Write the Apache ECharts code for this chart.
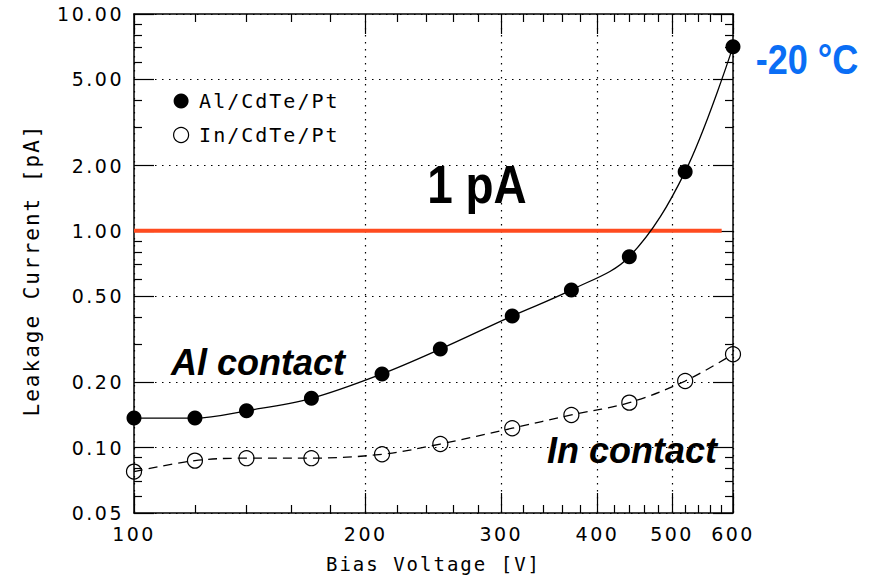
<!DOCTYPE html>
<html>
<head>
<meta charset="utf-8">
<script src="https://cdn.jsdelivr.net/npm/echarts@6/dist/echarts.min.js"></script>
<style>
  html, body { margin: 0; padding: 0; background: #fff; }
  #chart { width: 883px; height: 582px; }
  /* wide, airy lettering for the axis and legend text */
  #chart text[style*="DejaVu Sans"] { letter-spacing: 2.5px; }
  #chart text[style*="DejaVu Sans Mono"] { letter-spacing: 2px; }
</style>
</head>
<body>
<div id="chart"></div>
<script>
// Bias voltage steps [V]
const voltages = [100, 120, 140, 170, 210, 250, 310, 370, 440, 520, 600];
// Leakage current [pA] at -20 °C
const alCurrent = [0.137, 0.137, 0.148, 0.169, 0.219, 0.285, 0.405, 0.534, 0.76, 1.875, 7.07];
const inCurrent = [0.0776, 0.0872, 0.0895, 0.0895, 0.0933, 0.104, 0.123, 0.1416, 0.1614, 0.203, 0.270];

// 1 pA reference level and the voltage span it is drawn over
const limitCurrent = 1.0;
const limitVoltage = [100, 580];

// Axis ranges and tick positions
const xRange = [100, 600];
const yRange = [0.05, 10];
const xMajorTicks = [100, 200, 300, 400, 500, 600];
const xMinorTicks = [120, 140, 160, 180, 220, 240, 260, 280, 320, 340, 360, 380,
                     420, 440, 460, 480, 520, 540, 560, 580];
const yMajorTicks = [0.05, 0.1, 0.2, 0.5, 1, 2, 5, 10];
const yMinorTicks = [0.06, 0.07, 0.08, 0.09, 0.3, 0.4, 0.6, 0.7, 0.8, 0.9, 3, 4, 6, 7, 8, 9];

const seriesNames = ['Al/CdTe/Pt', 'In/CdTe/Pt'];

const lg = Math.log10;
const tickFont = 'DejaVu Sans';
const lineColor = '#000';

// Decorative tick axes laid over the log data axes (ticks at arbitrary decade values)
function tickAxis(dim, range, values, opts) {
  const isX = dim === 'x';
  const ax = {
    type: 'value',
    min: lg(range[0]),
    max: lg(range[1]),
    position: opts.position,
    silent: true,
    axisLine: { show: opts.line, onZero: false, lineStyle: { color: lineColor, width: 1.5 } },
    axisTick: {
      show: true, inside: true, length: opts.tickLen,
      customValues: values.map(lg),
      lineStyle: { color: lineColor, width: 1.2 }
    },
    axisLabel: { show: false },
    splitLine: { show: false },
    minorTick: { show: false },
    minorSplitLine: { show: false }
  };
  if (opts.labels) {
    ax.axisLabel = {
      show: true,
      customValues: values.map(lg),
      margin: isX ? 11 : 10,
      color: '#000',
      fontFamily: tickFont,
      fontSize: 19,
      formatter: isX
        ? (v) => String(Math.round(Math.pow(10, v)))
        : (v) => Math.pow(10, v).toFixed(2)
    };
  }
  if (opts.grid) {
    ax.splitLine = {
      show: true,
      lineStyle: { color: '#000', width: 1.2, type: [1.5, 5.5] }
    };
  }
  if (opts.name) {
    ax.name = opts.name;
    ax.nameLocation = 'middle';
    ax.nameGap = opts.nameGap;
    ax.nameTextStyle = {
      color: '#000', fontFamily: 'DejaVu Sans Mono', fontSize: opts.nameSize,
      padding: opts.namePadding || 0
    };
  }
  return ax;
}

const chart = echarts.init(document.getElementById('chart'), null, { renderer: 'svg' });

chart.setOption({
  animation: false,
  backgroundColor: '#fff',
  grid: { left: 134, right: 150, top: 14, bottom: 69, containLabel: false, outerBoundsMode: 'none' },
  legend: {
    orient: 'vertical',
    left: 173,
    top: 91,
    padding: 0,
    itemGap: 14,
    itemWidth: 26,
    itemHeight: 15,
    icon: 'circle',
    selectedMode: false,
    textStyle: { fontFamily: 'DejaVu Sans Mono', fontSize: 20, color: '#000', lineHeight: 20 },
    data: [
      { name: seriesNames[0], itemStyle: { color: '#000', borderWidth: 0 } },
      { name: seriesNames[1], itemStyle: { color: 'rgba(0,0,0,0)', borderColor: '#000', borderWidth: 1.2 } }
    ]
  },
  xAxis: [
    { type: 'log', logBase: 10, min: xRange[0], max: xRange[1], show: false },
    tickAxis('x', xRange, xMajorTicks, { position: 'bottom', line: true, tickLen: 20, labels: true, grid: true,
      name: 'Bias Voltage [V]', nameGap: 41, nameSize: 19 }),
    tickAxis('x', xRange, xMinorTicks, { position: 'bottom', line: false, tickLen: 8 }),
    tickAxis('x', xRange, xMajorTicks, { position: 'top', line: true, tickLen: 20 }),
    tickAxis('x', xRange, xMinorTicks, { position: 'top', line: false, tickLen: 8 })
  ],
  yAxis: [
    { type: 'log', logBase: 10, min: yRange[0], max: yRange[1], show: false },
    tickAxis('y', yRange, yMajorTicks, { position: 'left', line: true, tickLen: 20, labels: true, grid: true,
      name: 'Leakage Current [pA]', nameGap: 92, nameSize: 21, namePadding: [0, 13, 0, 0] }),
    tickAxis('y', yRange, yMinorTicks, { position: 'left', line: false, tickLen: 8 }),
    tickAxis('y', yRange, yMajorTicks, { position: 'right', line: true, tickLen: 20 }),
    tickAxis('y', yRange, yMinorTicks, { position: 'right', line: false, tickLen: 8 })
  ],
  series: [
    {
      name: 'limit',
      type: 'line',
      xAxisIndex: 0, yAxisIndex: 0,
      data: limitVoltage.map((v) => [v, limitCurrent]),
      symbol: 'none',
      silent: true,
      lineStyle: { color: '#ff4b1f', width: 4 },
      z: 3
    },
    {
      name: seriesNames[0],
      type: 'line',
      xAxisIndex: 0, yAxisIndex: 0,
      data: voltages.map((v, i) => [v, alCurrent[i]]),
      smooth: 0.35,
      symbol: 'circle',
      symbolSize: 15,
      itemStyle: { color: '#000' },
      lineStyle: { color: '#000', width: 1.3 },
      z: 4
    },
    {
      name: seriesNames[1],
      type: 'line',
      xAxisIndex: 0, yAxisIndex: 0,
      data: voltages.map((v, i) => [v, inCurrent[i]]),
      smooth: 0.35,
      symbol: 'circle',
      symbolSize: 15,
      itemStyle: { color: 'rgba(0,0,0,0)', borderColor: '#000', borderWidth: 1.2 },
      lineStyle: { color: '#000', width: 1.3, type: [9, 6] },
      z: 4
    }
  ],
  graphic: [
    {
      type: 'text', x: 477, y: 185, scaleX: 0.85, z: 10, silent: true,
      style: {
        text: '1 pA', fill: '#000', align: 'center', verticalAlign: 'middle',
        font: "bold 54px 'Liberation Sans', Arial, sans-serif"
      }
    },
    {
      type: 'text', x: 807, y: 60, scaleX: 0.86, z: 10, silent: true,
      style: {
        text: '-20 °C', fill: '#0a6ef5', align: 'center', verticalAlign: 'middle',
        font: "bold 42px 'Liberation Sans', Arial, sans-serif"
      }
    },
    {
      type: 'text', x: 258, y: 362, z: 10, silent: true,
      style: {
        text: 'Al contact', fill: '#000', align: 'center', verticalAlign: 'middle',
        font: "italic bold 36px 'Liberation Sans', Arial, sans-serif"
      }
    },
    {
      type: 'text', x: 632, y: 450, z: 10, silent: true,
      style: {
        text: 'In contact', fill: '#000', align: 'center', verticalAlign: 'middle',
        font: "italic bold 36px 'Liberation Sans', Arial, sans-serif"
      }
    }
  ]
});
</script>
</body>
</html>
